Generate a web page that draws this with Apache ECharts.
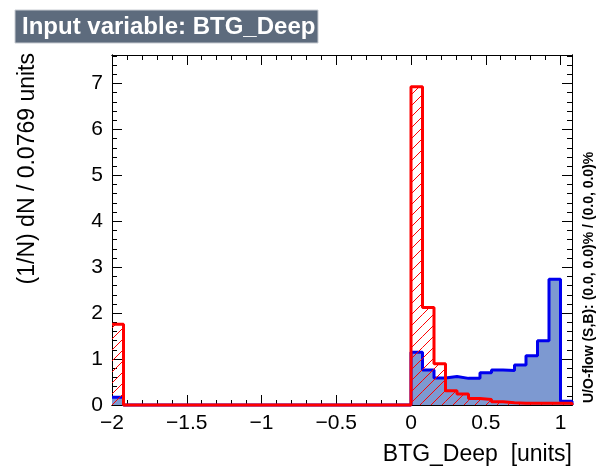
<!DOCTYPE html>
<html>
<head>
<meta charset="utf-8">
<script src="https://cdn.jsdelivr.net/npm/echarts@6/dist/echarts.min.js"></script>
<style>
html,body{margin:0;padding:0;background:#fff;}
#chart{width:597px;height:466px;}
</style>
</head>
<body>
<div id="chart"></div>
<script>
// ---- data ----
var xMin = -2;
var binWidth = 1 / 13; // 0.0769 units
var nBins = 40;
var xMax = xMin + nBins * binWidth;
var yMax = 7.62;
var xTickLabels = [-2, -1.5, -1, -0.5, 0, 0.5, 1];
var yTickLabels = [0, 1, 2, 3, 4, 5, 6, 7];
var signalValues = [0.17,
  0,0,0,0,0,0,0,0,0,0,0,0,0,0,0,0,0,0,0,0,0,0,0,0,0,
  1.15, 0.76, 0.59, 0.62, 0.58, 0.58, 0.70, 0.76, 0.75, 0.87, 1.07, 1.40, 2.74, 0.08];
var backgroundValues = [1.76,
  0,0,0,0,0,0,0,0,0,0,0,0,0,0,0,0,0,0,0,0,0,0,0,0,0,
  6.93, 2.12, 0.90, 0.31, 0.24, 0.14, 0.12, 0.07, 0.05, 0.04, 0.04, 0.04, 0.04, 0.04];

function stepData(vals) {
  var d = [];
  for (var i = 0; i < vals.length; i++) d.push([xMin + i * binWidth, vals[i]]);
  d.push([xMax, 0]);
  return d;
}
function binData(vals) {
  var d = [];
  for (var i = 0; i < vals.length; i++) d.push([xMin + i * binWidth, xMin + (i + 1) * binWidth, vals[i]]);
  return d;
}

var HATCH_STEP = 11;
function renderHatch(params, api) {
  var lo = api.value(0), hi = api.value(1), v = api.value(2);
  if (!(v > 0)) return null;
  var pA = api.coord([lo, 0]);
  var pB = api.coord([hi, v]);
  var L = pA[0], R = pB[0], T = pB[1], B = pA[1];
  var children = [];
  var cStart = Math.floor((L + T) / HATCH_STEP) * HATCH_STEP;
  for (var c = cStart; c <= R + B; c += HATCH_STEP) {
    var x0 = Math.max(L, c - B), x1 = Math.min(R, c - T);
    if (x1 - x0 > 0.3) {
      children.push({type: 'line', shape: {x1: x0, y1: c - x0, x2: x1, y2: c - x1},
        style: {stroke: '#ff0000', lineWidth: 1}});
    }
  }
  return {type: 'group', children: children};
}

var FONT = '"Liberation Sans", Helvetica, Arial, sans-serif';

function fmtX(v) {
  for (var i = 0; i < xTickLabels.length; i++) {
    if (Math.abs(v - xTickLabels[i]) < 1e-6) {
      return String(xTickLabels[i]).replace('-', '\u2212');
    }
  }
  return '';
}
function fmtY(v) {
  for (var i = 0; i < yTickLabels.length; i++) {
    if (Math.abs(v - yTickLabels[i]) < 1e-6) return String(yTickLabels[i]);
  }
  return '';
}

function axLine() { return {show: true, onZero: false, lineStyle: {color: '#000', width: 1}}; }
function xAx(pos, interval, len, labels) {
  return {
    type: 'value', position: pos, min: xMin, max: xMax, interval: interval,
    axisLine: axLine(),
    axisTick: {show: true, inside: true, length: len, lineStyle: {color: '#000', width: 1}},
    axisLabel: labels ? {show: true, formatter: fmtX, fontFamily: FONT, fontSize: 21, color: '#000', margin: 8} : {show: false},
    splitLine: {show: false}
  };
}
function yAx(pos, interval, len, labels) {
  return {
    type: 'value', position: pos, min: 0, max: yMax, interval: interval,
    axisLine: axLine(),
    axisTick: {show: true, inside: true, length: len, lineStyle: {color: '#000', width: 1}},
    axisLabel: labels ? {show: true, formatter: fmtY, fontFamily: FONT, fontSize: 21, color: '#000', margin: 9} : {show: false},
    splitLine: {show: false}
  };
}

var chart = echarts.init(document.getElementById('chart'), null, {renderer: 'canvas'});
chart.setOption({
  animation: false,
  backgroundColor: '#fff',
  grid: {left: 112, right: 25, top: 55, bottom: 61, containLabel: false},
  xAxis: [xAx('bottom', 0.5, 10, true), xAx('bottom', 0.1, 5, false), xAx('top', 0.5, 10, false), xAx('top', 0.1, 5, false)],
  yAxis: [yAx('left', 1, 10, true), yAx('left', 0.2, 5, false), yAx('right', 1, 10, false), yAx('right', 0.2, 5, false)],
  series: [
    {
      name: 'Signal', type: 'line', step: 'end', xAxisIndex: 0, yAxisIndex: 0,
      data: stepData(signalValues), showSymbol: false, clip: false, z: 2,
      lineStyle: {color: '#0000ee', width: 3},
      areaStyle: {color: '#7d99d1', opacity: 1}
    },
    {
      name: 'BackgroundHatch', type: 'custom', xAxisIndex: 0, yAxisIndex: 0,
      data: binData(backgroundValues), renderItem: renderHatch, z: 3,
      encode: {x: [0, 1], y: 2}
    },
    {
      name: 'Background', type: 'line', step: 'end', xAxisIndex: 0, yAxisIndex: 0,
      data: stepData(backgroundValues), showSymbol: false, clip: false, z: 4,
      lineStyle: {color: '#ff0000', width: 3}
    }
  ],
  graphic: [
    {type: 'rect', shape: {x: 15, y: 10, width: 303, height: 33}, style: {fill: '#5d6b7d', stroke: '#c8ccd2', lineWidth: 1}},
    {type: 'text', x: 22, y: 27, style: {text: 'Input variable: BTG_Deep', fill: '#fff', font: 'bold 24px ' + FONT, textAlign: 'left', textVerticalAlign: 'middle'}},
    {type: 'text', x: 572, y: 455, style: {text: 'BTG_Deep  [units]', fill: '#000', font: '23px ' + FONT, textAlign: 'right', textVerticalAlign: 'middle'}},
    {type: 'text', x: 28, y: 53, rotation: Math.PI / 2, style: {text: '(1/N) dN / 0.0769 units', fill: '#000', font: '23px ' + FONT, textAlign: 'right', textVerticalAlign: 'middle'}},
    {type: 'text', x: 589, y: 403, rotation: Math.PI / 2, style: {text: 'U/O-flow (S,B): (0.0, 0.0)% / (0.0, 0.0)%', fill: '#000', font: 'bold 14px ' + FONT, textAlign: 'left', textVerticalAlign: 'middle'}}
  ]
});
</script>
</body>
</html>
